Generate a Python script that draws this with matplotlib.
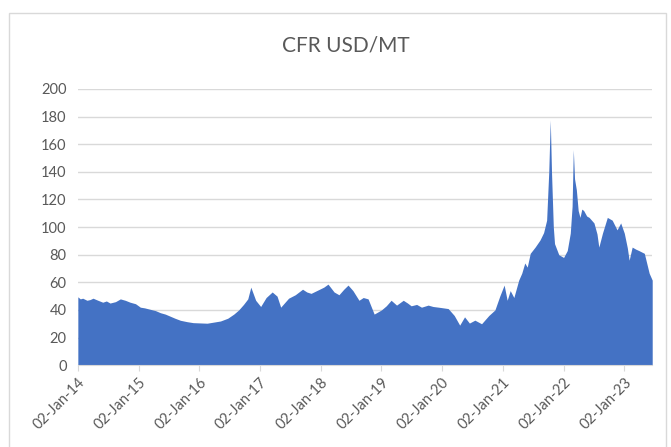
import numpy as np
import pandas as pd
import matplotlib
matplotlib.use('Agg')
import matplotlib.pyplot as plt
import matplotlib.dates as mdates
from matplotlib.patches import Rectangle

plt.rcParams['font.family'] = ['Lato', 'DejaVu Sans']

# dates (decimal years) and prices
years = [2014.00, 2014.04, 2014.08, 2014.15, 2014.20, 2014.25, 2014.33, 2014.41,
         2014.47, 2014.53, 2014.62, 2014.70, 2014.78, 2014.86, 2014.95, 2015.03,
         2015.10, 2015.19, 2015.28, 2015.36, 2015.44, 2015.52, 2015.60, 2015.69,
         2015.80, 2015.90, 2016.13, 2016.35, 2016.47, 2016.57, 2016.65, 2016.73,
         2016.80, 2016.85, 2016.93, 2017.01, 2017.10, 2017.20, 2017.28, 2017.34,
         2017.40, 2017.47, 2017.58, 2017.70, 2017.77, 2017.84, 2017.98, 2018.05,
         2018.12, 2018.22, 2018.30, 2018.38, 2018.45, 2018.53, 2018.63, 2018.70,
         2018.78, 2018.88, 2019.00, 2019.08, 2019.16, 2019.25, 2019.36, 2019.43,
         2019.49, 2019.58, 2019.66, 2019.77, 2019.85, 2019.94, 2020.10, 2020.20,
         2020.29, 2020.37, 2020.45, 2020.54, 2020.65, 2020.77, 2020.87, 2020.95,
         2021.02, 2021.07, 2021.12, 2021.18, 2021.26, 2021.31, 2021.36, 2021.40,
         2021.45, 2021.53, 2021.61, 2021.67, 2021.72, 2021.755, 2021.78, 2021.80,
         2021.83, 2021.85, 2021.92, 2022.00, 2022.06, 2022.11, 2022.14, 2022.16,
         2022.18, 2022.21, 2022.24, 2022.27, 2022.30, 2022.33, 2022.38, 2022.42,
         2022.50, 2022.55, 2022.58, 2022.64, 2022.72, 2022.80, 2022.88, 2022.94,
         2023.00, 2023.05, 2023.08, 2023.13, 2023.19, 2023.24, 2023.33, 2023.38,
         2023.41, 2023.46]
prices = [49.5, 48.0, 48.5, 47.0, 47.5, 48.5, 47.0, 45.6,
          46.5, 45.0, 46.0, 48.0, 47.0, 45.6, 44.5, 42.0,
          41.5, 40.5, 39.5, 38.0, 37.0, 35.5, 34.0, 32.5,
          31.5, 30.8, 30.4, 32.0, 34.0, 37.0, 40.0, 44.0,
          48.0, 56.5, 47.0, 42.5, 49.0, 53.0, 50.0, 42.0,
          45.0, 48.5, 51.0, 55.0, 53.0, 52.0, 55.0, 56.5,
          58.7, 53.0, 51.0, 55.0, 58.0, 54.0, 47.0, 49.0,
          48.0, 37.0, 40.0, 43.0, 47.0, 43.5, 47.0, 45.0,
          43.0, 44.0, 42.0, 43.5, 42.5, 42.0, 41.0, 36.0,
          29.0, 35.0, 30.5, 32.6, 30.0, 36.0, 40.0, 50.0,
          58.0, 47.0, 54.0, 49.0, 61.6, 66.6, 74.0, 71.0,
          81.0, 85.5, 90.6, 96.0, 105.0, 140.0, 177.5, 140.0,
          100.0, 88.0, 80.0, 78.0, 83.0, 95.6, 115.0, 156.0,
          135.0, 127.0, 112.0, 107.0, 113.0, 112.0, 108.0, 107.0,
          103.0, 95.0, 85.5, 95.6, 107.0, 105.0, 98.0, 103.0,
          95.6, 85.0, 76.0, 85.5, 84.0, 83.0, 81.0, 72.0,
          66.6, 61.6]

tick_years = list(range(2014, 2024))


def to_date(y):
    year = int(y)
    start = pd.Timestamp(year=year, month=1, day=2)
    return start + pd.Timedelta(days=(y - year) * 365.25)


dates = [to_date(y) for y in years]
tick_dates = [pd.Timestamp(year=y, month=1, day=2) for y in tick_years]

fig = plt.figure(figsize=(6.71, 4.47), dpi=100)
ax = fig.add_axes([0.116, 0.183, 0.856, 0.618])

ax.fill_between(dates, prices, 0, color='#4472C4', linewidth=0)
ax.set_ylim(0, 200)
ax.set_yticks(range(0, 201, 20))
ax.set_xlim(dates[0], dates[-1])
ax.set_xticks(tick_dates)
ax.xaxis.set_major_formatter(mdates.DateFormatter('%d-%b-%y'))

ax.grid(axis='y', color='#D9D9D9', linewidth=1)
ax.set_axisbelow(True)
for s in ['left', 'right', 'top']:
    ax.spines[s].set_visible(False)
ax.spines['bottom'].set_color('#D9D9D9')
ax.tick_params(axis='y', length=0, labelsize=10.5, labelcolor='#595959', pad=8)
ax.tick_params(axis='x', length=4, color='#D9D9D9', labelsize=10.5,
               labelcolor='#595959')
for lab in ax.get_xticklabels():
    lab.set_rotation(45)
    lab.set_ha('right')
    lab.set_rotation_mode('anchor')

fig.text(0.515, 0.898, 'CFR USD/MT', ha='center', va='center',
         fontsize=15, color='#595959')

fig.patches.append(Rectangle((0.013, -0.01), 0.98, 0.98, transform=fig.transFigure,
                             fill=False, edgecolor='#D9D9D9', linewidth=1))

fig.savefig('out.png', dpi=100, facecolor='white')
